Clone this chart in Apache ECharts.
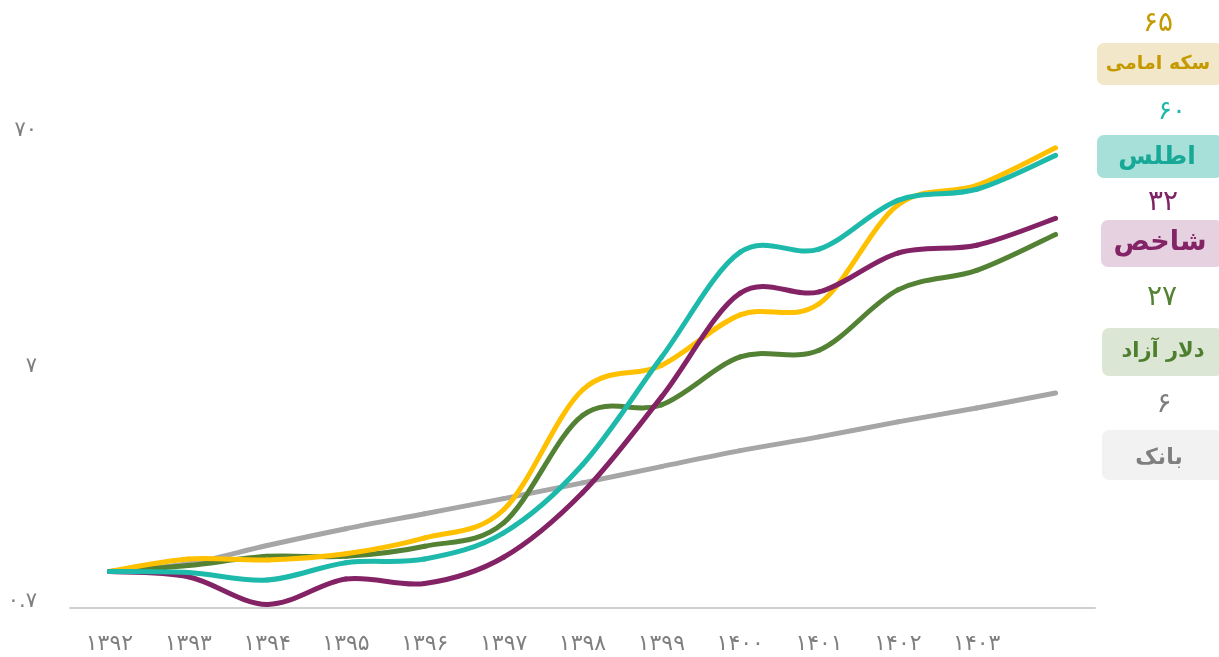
<!DOCTYPE html>
<html>
<head>
<meta charset="utf-8">
<script src="https://cdn.jsdelivr.net/npm/echarts@6/dist/echarts.min.js"></script>
<style>
html,body{margin:0;padding:0;background:#fff;}
#chart{width:1219px;height:657px;}
</style>
</head>
<body>
<div id="chart"></div>
<script>
// Years (category axis); last year has no visible label
const categories = ['۱۳۹۲','۱۳۹۳','۱۳۹۴','۱۳۹۵','۱۳۹۶','۱۳۹۷','۱۳۹۸','۱۳۹۹','۱۴۰۰','۱۴۰۱','۱۴۰۲','۱۴۰۳','۱۴۰۴'];

// Growth multiples (start = 1)
const bank   = [1, 1.08, 1.29, 1.52, 1.76, 2.04, 2.38, 2.79, 3.26, 3.73, 4.32, 4.95, 5.73];
const dollar = [1, 1.06, 1.16, 1.16, 1.28, 1.61, 4.60, 5.10, 8.15, 8.70, 15.7, 19.0, 27.0];
const coin   = [1, 1.13, 1.12, 1.19, 1.39, 1.83, 5.90, 7.50, 12.3, 13.7, 36.0, 43.6, 63.0];
const index  = [1, 0.95, 0.725, 0.93, 0.89, 1.15, 2.16, 5.50, 15.2, 15.4, 22.5, 24.3, 31.6];
const atlas  = [1, 0.99, 0.92, 1.09, 1.13, 1.46, 2.84, 8.10, 22.7, 23.4, 37.7, 42.0, 58.5];

// Y tick labels
const yTicks = [0.7, 7, 70];
const yTickLabels = ['۰.۷', '۷', '۷۰'];

// Right-hand labels: name, final value text
const seriesNames = ['سکه امامی', 'اطلس', 'شاخص', 'دلار آزاد', 'بانک'];
const finalValues = ['۶۵', '۶۰', '۳۲', '۲۷', '۶'];

const FONT = '"DejaVu Sans", sans-serif';

// Smooth line drawn segment by segment (Catmull-Rom style Bezier), positions from the axes via api.coord
function mkSeries(name, values, color, z) {
  const n = values.length;
  return {
    name: name, type: 'custom', coordinateSystem: 'cartesian2d', z: z,
    data: values.map((v, i) => [i, v]),
    encode: { x: 0, y: 1 },
    clip: false,
    renderItem: function (params, api) {
      const i = params.dataIndex;
      if (i >= n - 1) return null;
      const P = k => { const j = Math.max(0, Math.min(n - 1, k)); return api.coord([j, values[j]]); };
      const p0 = P(i - 1), p1 = P(i), p2 = P(i + 1), p3 = P(i + 2);
      const t = 1 / 6;
      return {
        type: 'bezierCurve',
        shape: {
          x1: p1[0], y1: p1[1], x2: p2[0], y2: p2[1],
          cpx1: p1[0] + (p2[0] - p0[0]) * t, cpy1: p1[1] + (p2[1] - p0[1]) * t,
          cpx2: p2[0] - (p3[0] - p1[0]) * t, cpy2: p2[1] - (p3[1] - p1[1]) * t
        },
        style: { stroke: color, lineWidth: 5, lineCap: 'round', fill: null }
      };
    }
  };
}

const chart = echarts.init(document.getElementById('chart'), null, { renderer: 'canvas' });

const boxes = [
  { num: finalValues[0], nx: 1158, ny: 24, nc: '#C49A00', ns: 28,
    bx: 1097, by: 43, bw: 126, bh: 42, bf: '#F2E7C9',
    label: seriesNames[0], lx: 1158, ly: 64, ls: 19, lc: '#C49A00' },
  { num: finalValues[1], nx: 1172, ny: 112, nc: '#1DB9AA', ns: 26,
    bx: 1097, by: 135, bw: 126, bh: 43, bf: '#A6E0D8',
    label: seriesNames[1], lx: 1157, ly: 157, ls: 25, lc: '#17A897' },
  { num: finalValues[2], nx: 1163, ny: 203, nc: '#7E2466', ns: 28,
    bx: 1101, by: 220, bw: 122, bh: 47, bf: '#E6D1E1',
    label: seriesNames[2], lx: 1160, ly: 243, ls: 27, lc: '#832466' },
  { num: finalValues[3], nx: 1162, ny: 298, nc: '#548235', ns: 28,
    bx: 1102, by: 328, bw: 121, bh: 48, bf: '#DCE6D4',
    label: seriesNames[3], lx: 1163, ly: 352, ls: 21, lc: '#4E7F2E' },
  { num: finalValues[4], nx: 1164, ny: 405, nc: '#7F7F7F', ns: 28,
    bx: 1102, by: 430, bw: 121, bh: 50, bf: '#F2F2F2',
    label: seriesNames[4], lx: 1159, ly: 458, ls: 22, lc: '#7F7F7F' }
];

const graphics = [];
boxes.forEach(b => {
  graphics.push({ type: 'rect', left: b.bx, top: b.by, z: 10,
    shape: { width: b.bw, height: b.bh, r: 7 }, style: { fill: b.bf } });
  graphics.push({ type: 'text', x: b.nx, y: b.ny, z: 11,
    style: { text: b.num, fill: b.nc, font: 'normal ' + b.ns + 'px ' + FONT, textAlign: 'center', textVerticalAlign: 'middle' } });
  graphics.push({ type: 'text', x: b.lx, y: b.ly, z: 11,
    style: { text: b.label, fill: b.lc, font: 'bold ' + b.ls + 'px ' + FONT, textAlign: 'center', textVerticalAlign: 'middle' } });
});

chart.setOption({
  animation: false,
  backgroundColor: '#ffffff',
  grid: { left: 70, right: 124, top: 137, bottom: 49, containLabel: false, outerBoundsMode: 'none' },
  xAxis: {
    type: 'category', data: categories, boundaryGap: true,
    axisLine: { lineStyle: { color: '#D0D0D0', width: 2 } },
    axisTick: { show: false },
    axisLabel: {
      margin: 25, color: '#7F7F7F', fontSize: 22, fontFamily: FONT,
      interval: function (i) { return i < categories.length - 1; }
    },
    splitLine: { show: false }
  },
  yAxis: {
    type: 'log', logBase: 10, min: 0.7, max: 70,
    axisLine: { show: false }, axisTick: { show: false }, splitLine: { show: false },
    axisLabel: {
      customValues: yTicks,
      margin: 33, color: '#7F7F7F', fontSize: 21, fontFamily: FONT,
      verticalAlign: 'bottom', lineHeight: 12,
      formatter: function (v) {
        for (let i = 0; i < yTicks.length; i++) {
          if (Math.abs(v - yTicks[i]) / yTicks[i] < 1e-6) return yTickLabels[i];
        }
        return '';
      }
    }
  },
  series: [
    mkSeries(seriesNames[4], bank,   '#A6A6A6', 1),
    mkSeries(seriesNames[3], dollar, '#548235', 2),
    mkSeries(seriesNames[0], coin,   '#FFC000', 3),
    mkSeries(seriesNames[2], index,  '#832366', 4),
    mkSeries(seriesNames[1], atlas,  '#1DB9AA', 5)
  ],
  graphic: graphics
});
</script>
</body>
</html>
